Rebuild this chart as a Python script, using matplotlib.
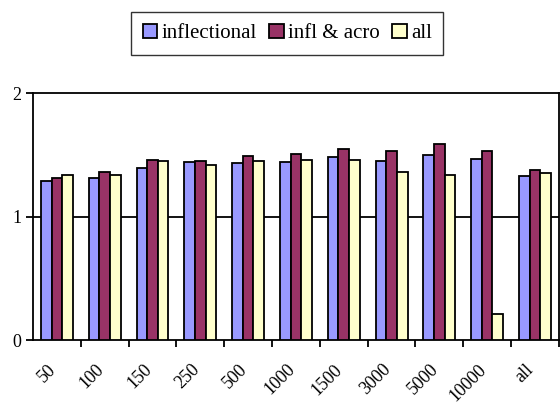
import numpy as np
import matplotlib
matplotlib.use("Agg")
import matplotlib.pyplot as plt
import matplotlib.transforms as mtransforms
from matplotlib.ticker import FixedLocator

categories = ['50', '100', '150', '250', '500', '1000', '1500', '3000', '5000', '10000', 'all']
inflectional = [1.29, 1.31, 1.39, 1.44, 1.43, 1.44, 1.48, 1.45, 1.50, 1.47, 1.33]
infl_acro = [1.31, 1.36, 1.46, 1.45, 1.49, 1.51, 1.55, 1.53, 1.59, 1.53, 1.38]
all_vals = [1.34, 1.34, 1.45, 1.42, 1.45, 1.46, 1.46, 1.36, 1.34, 0.21, 1.35]

plt.rcParams['font.family'] = ['Liberation Serif', 'DejaVu Serif']

fig = plt.figure(figsize=(5.6, 4.03), dpi=100)
ax = fig.add_axes([0.059, 0.156, 0.939, 0.613])

x = np.arange(len(categories))
w = 1 / 4.5
series = [(inflectional, '#9999FF', 'inflectional'),
          (infl_acro, '#993366', 'infl & acro'),
          (all_vals, '#FFFFCC', 'all')]
for i, (vals, col, lab) in enumerate(series):
    ax.bar(x + (i - 1) * w, vals, w, color=col, edgecolor='black', linewidth=1.3, label=lab, zorder=3)

ax.set_xlim(-0.5, len(categories) - 0.5)
ax.set_ylim(0, 2)
ax.set_yticks([0, 1, 2])
ax.axhline(1, color='black', linewidth=1.3, zorder=1)
ax.tick_params(axis='y', labelsize=13, width=1.3, length=5, direction='out')

# category labels at centres, tick marks at boundaries
ax.set_xticks(x)
ax.set_xticklabels(categories, rotation=45, ha='right', va='top', rotation_mode='anchor', fontsize=13)
ax.tick_params(axis='x', which='major', length=0, pad=15)
shift = mtransforms.ScaledTranslation(-7 / 72, 0, fig.dpi_scale_trans)
for lbl in ax.get_xticklabels():
    lbl.set_transform(lbl.get_transform() + shift)
ax.xaxis.set_minor_locator(FixedLocator(np.arange(len(categories)) + 0.5))
ax.tick_params(axis='x', which='minor', length=5, width=1.3, direction='out')

for s in ax.spines.values():
    s.set_linewidth(1.3)

fig.legend(loc='center', bbox_to_anchor=(0.513, 0.917), ncol=3, fontsize=15,
           frameon=True, fancybox=False, edgecolor='black', handlelength=0.7,
           handleheight=0.7, handletextpad=0.2, columnspacing=0.6, borderpad=0.55)
fig.legends[0].get_frame().set_linewidth(1.0)

fig.savefig('out.png', dpi=100)
